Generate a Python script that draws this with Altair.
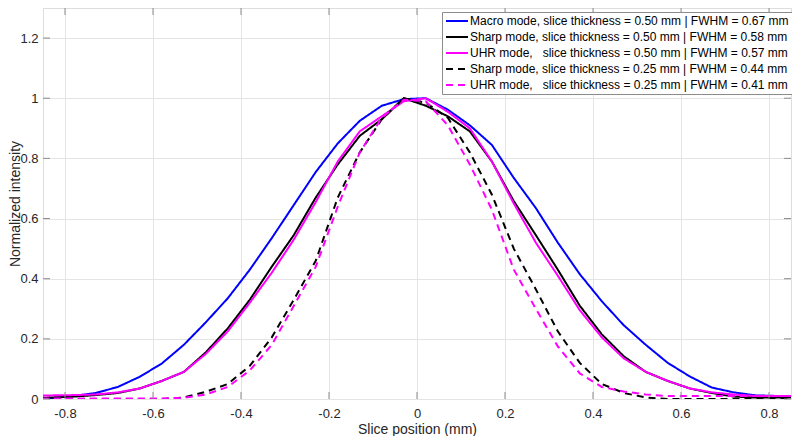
import altair as alt
import pandas as pd

# sample positions (mm)
x_pos = [-0.88, -0.83, -0.78, -0.73, -0.68, -0.63, -0.58, -0.53, -0.48, -0.43,
         -0.38, -0.33, -0.28, -0.23, -0.18, -0.13, -0.08, -0.03, 0.02, 0.07,
         0.12, 0.17, 0.22, 0.27, 0.32, 0.37, 0.42, 0.47, 0.52, 0.57,
         0.62, 0.67, 0.72, 0.77, 0.82, 0.87]

macro_050 = [0.0, 0.003, 0.01, 0.02, 0.04, 0.074, 0.118, 0.18, 0.255, 0.335,
             0.43, 0.535, 0.645, 0.755, 0.85, 0.925, 0.975, 0.997, 1.0, 0.962,
             0.91, 0.845, 0.735, 0.635, 0.52, 0.415, 0.325, 0.245, 0.18, 0.12,
             0.075, 0.038, 0.022, 0.012, 0.01, 0.01]
sharp_050 = [0.003, 0.005, 0.008, 0.013, 0.02, 0.035, 0.06, 0.09, 0.155, 0.235,
             0.33, 0.44, 0.545, 0.67, 0.78, 0.875, 0.93, 1.0, 0.975, 0.94,
             0.89, 0.79, 0.658, 0.545, 0.43, 0.31, 0.215, 0.142, 0.09, 0.06,
             0.035, 0.02, 0.008, 0.005, 0.005, 0.005]
uhr_050 = [0.012, 0.012, 0.013, 0.015, 0.022, 0.035, 0.06, 0.09, 0.15, 0.225,
           0.32, 0.42, 0.53, 0.655, 0.79, 0.89, 0.94, 0.99, 1.0, 0.955,
           0.9, 0.79, 0.65, 0.52, 0.41, 0.295, 0.205, 0.135, 0.09, 0.06,
           0.035, 0.022, 0.015, 0.01, 0.01, 0.01]
sharp_025 = [0.0, 0.0, 0.0, 0.0, 0.0, 0.0, 0.0, 0.005, 0.024, 0.05,
             0.11, 0.205, 0.33, 0.46, 0.67, 0.82, 0.93, 1.0, 0.985, 0.935,
             0.82, 0.68, 0.5, 0.365, 0.225, 0.12, 0.05, 0.02, 0.005, 0.0,
             0.0, 0.0, 0.0, 0.0, 0.0, 0.0]
uhr_025 = [0.002, 0.002, 0.002, 0.002, 0.002, 0.002, 0.002, 0.004, 0.015, 0.04,
           0.095, 0.18, 0.31, 0.44, 0.64, 0.82, 0.935, 0.995, 0.99, 0.91,
           0.78, 0.63, 0.43, 0.30, 0.175, 0.085, 0.04, 0.025, 0.015, 0.01,
           0.01, 0.01, 0.01, 0.01, 0.01, 0.01]

series_names = [
    "Macro mode, slice thickness = 0.50 mm | FWHM = 0.67 mm",
    "Sharp mode, slice thickness = 0.50 mm | FWHM = 0.58 mm",
    "UHR mode,\u00a0\u00a0 slice thickness = 0.50 mm | FWHM = 0.57 mm",
    "Sharp mode, slice thickness = 0.25 mm | FWHM = 0.44 mm",
    "UHR mode,\u00a0\u00a0 slice thickness = 0.25 mm | FWHM = 0.41 mm",
]
series_values = [macro_050, sharp_050, uhr_050, sharp_025, uhr_025]
series_colors = ["#0000ff", "#000000", "#ff00ff", "#000000", "#ff00ff"]
series_dash = [[1, 0], [1, 0], [1, 0], [7, 5], [7, 5]]

x_ticks = [-0.8, -0.6, -0.4, -0.2, 0.0, 0.2, 0.4, 0.6, 0.8]
y_ticks = [0.0, 0.2, 0.4, 0.6, 0.8, 1.0, 1.2]

rows = []
for name, vals in zip(series_names, series_values):
    for xv, yv in zip(x_pos, vals):
        rows.append({"series": name, "x": xv, "y": yv})
df = pd.DataFrame(rows)

W, H = 748, 391
FONT = "Liberation Sans"
AXIS_GRAY = "#8c8c8c"
TEXT = "#262626"
TICK = 7

xscale = alt.Scale(domain=[-0.85, 0.85], nice=False, zero=False)
yscale = alt.Scale(domain=[0, 1.3], nice=False, zero=False)
label_expr = "datum.value < 0 ? '-' + format(-datum.value, '~g') : format(datum.value, '~g')"

x_axis = alt.Axis(
    values=x_ticks, title="Slice position (mm)", labelExpr=label_expr,
    grid=True, gridColor="#e4e4e4", domain=False, ticks=False,
    labelFont=FONT, labelFontSize=13, labelColor=TEXT, labelPadding=8,
    titleFont=FONT, titleFontSize=14, titleFontWeight="normal",
    titleColor=TEXT, titlePadding=2)
y_axis = alt.Axis(
    values=y_ticks, title="Normalized intensity", labelExpr=label_expr,
    grid=True, gridColor="#e4e4e4", domain=False, ticks=False,
    labelFont=FONT, labelFontSize=13, labelColor=TEXT, labelPadding=5,
    titleFont=FONT, titleFontSize=14, titleFontWeight="normal",
    titleColor=TEXT, titleX=-21, titleBaseline="bottom")

legend = alt.Legend(
    title=None, orient="none", legendX=399, legendY=4,
    symbolType="stroke", symbolSize=484, symbolStrokeWidth=2,
    labelFont=FONT, labelFontSize=12, labelColor="#000000", labelLimit=500,
    labelOffset=1, fillColor="white", strokeColor=AXIS_GRAY,
    padding=3, rowPadding=4, clipHeight=12,
)

lines = alt.Chart(df).mark_line(strokeWidth=2, clip=True).encode(
    x=alt.X("x:Q", scale=xscale, axis=x_axis),
    y=alt.Y("y:Q", scale=yscale, axis=y_axis),
    color=alt.Color("series:N", scale=alt.Scale(domain=series_names, range=series_colors),
                    legend=legend),
    strokeDash=alt.StrokeDash("series:N", scale=alt.Scale(domain=series_names, range=series_dash),
                              legend=legend),
)

xt = pd.DataFrame({"x": x_ticks})
yt = pd.DataFrame({"y": y_ticks})

bottom_ticks = alt.Chart(xt).mark_rule(color=AXIS_GRAY, strokeWidth=1).encode(
    x=alt.X("x:Q", scale=xscale, axis=x_axis), y=alt.value(H), y2=alt.value(H - TICK))
top_ticks = alt.Chart(xt).mark_rule(color=AXIS_GRAY, strokeWidth=1).encode(
    x=alt.X("x:Q", scale=xscale, axis=x_axis), y=alt.value(0), y2=alt.value(TICK))
left_ticks = alt.Chart(yt).mark_rule(color=AXIS_GRAY, strokeWidth=1).encode(
    y=alt.Y("y:Q", scale=yscale, axis=y_axis), x=alt.value(0), x2=alt.value(TICK))
right_ticks = alt.Chart(yt).mark_rule(color=AXIS_GRAY, strokeWidth=1).encode(
    y=alt.Y("y:Q", scale=yscale, axis=y_axis), x=alt.value(W), x2=alt.value(W - TICK))

chart = alt.layer(lines, bottom_ticks, top_ticks, left_ticks, right_ticks).properties(
    width=W, height=H,
    autosize=alt.AutoSizeParams(type="none"),
    padding={"left": 35, "top": 0, "right": 1, "bottom": 37},
    background="white",
).configure_view(stroke=AXIS_GRAY, strokeWidth=1).configure(font=FONT)

chart.save("out.html", embed_options={"renderer": "svg", "actions": False})
